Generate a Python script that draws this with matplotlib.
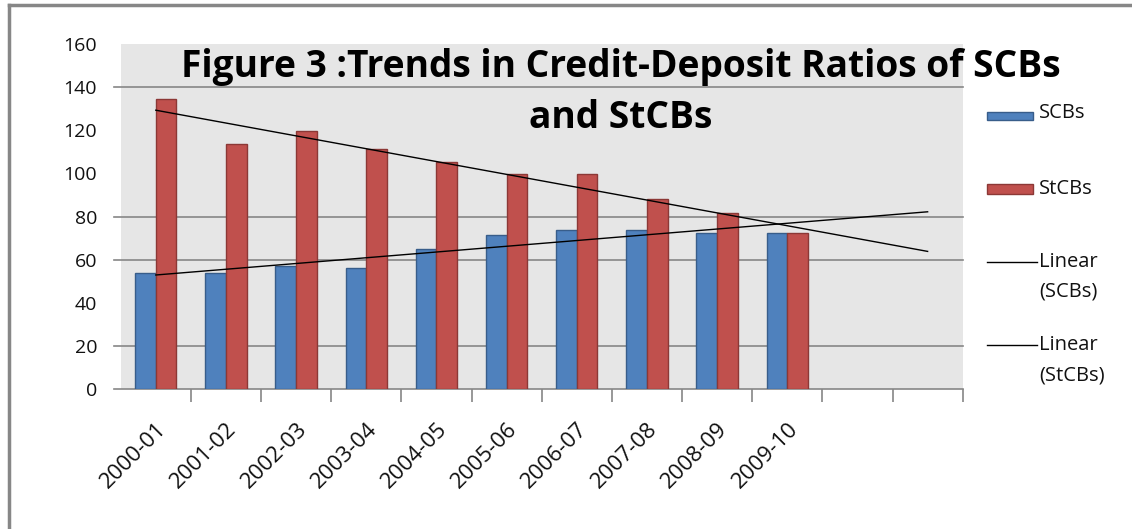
import numpy as np
import matplotlib
matplotlib.use("Agg")
import matplotlib.pyplot as plt
from matplotlib.patches import Rectangle
from matplotlib.lines import Line2D

# ---- data ----
categories = ["2000-01", "2001-02", "2002-03", "2003-04", "2004-05",
              "2005-06", "2006-07", "2007-08", "2008-09", "2009-10", "", ""]
scbs = [53.7, 54.0, 57.1, 56.0, 64.8, 71.3, 73.6, 73.6, 72.4, 72.4]
stcbs = [134.3, 113.6, 119.6, 111.2, 105.1, 99.5, 99.5, 88.0, 81.5, 72.4]
yticks = [0, 20, 40, 60, 80, 100, 120, 140, 160]
visible_grid = [20, 60, 80, 140]
title_lines = ["Figure 3 :Trends in Credit-Deposit Ratios of SCBs", "and StCBs"]

W, H = 1132, 529
plt.rcParams['font.family'] = ['Open Sans', 'DejaVu Sans']
fig = plt.figure(figsize=(W / 100, H / 100), dpi=100)
fig.patch.set_facecolor('white')

def fx(px):
    return px / W

def fy(py):
    return 1 - py / H

left, right, top, bottom = 120.7, 962.7, 43.7, 389.3
ax = fig.add_axes([fx(left), fy(bottom), fx(right) - fx(left), fy(top) - fy(bottom)])
ax.set_facecolor('#e6e6e6')

blue, blue_e = '#4f81bd', '#385d8a'
red, red_e = '#c0504d', '#8c3836'

n = len(categories)
x = np.arange(n)
xd = np.arange(len(scbs))
bw = 0.295
ax.bar(xd - bw / 2, scbs, width=bw, color=blue, edgecolor=blue_e, linewidth=1, zorder=3)
ax.bar(xd + bw / 2, stcbs, width=bw, color=red, edgecolor=red_e, linewidth=1, zorder=3)

# linear trend lines (Excel style, forecast forward 2 periods)
xt = np.arange(n)
for series in (scbs, stcbs):
    k, b = np.polyfit(xd + 1, series, 1)
    ax.plot(xt, k * (xt + 1) + b, color='black', linewidth=1.0, zorder=4)

ax.set_xlim(-0.5, n - 0.5)
ax.set_ylim(0, 160)

for g in visible_grid + [0]:
    ax.axhline(g, xmin=-7 / (right - left), xmax=1, color='#868686',
               linewidth=1.2, zorder=1, clip_on=False)

for s in ax.spines.values():
    s.set_visible(False)

ax.set_yticks(yticks)
ax.set_yticklabels([str(v) for v in yticks], fontsize=14, color='#111111')
ax.tick_params(axis='y', length=0, pad=17)

ax.set_xticks(x)
ax.set_xticklabels(categories, rotation=45, ha='right', rotation_mode='anchor',
                   fontsize=16, color='#111111')
ax.tick_params(axis='x', length=0, pad=21)
ax.set_xticks(np.arange(0.5, n, 1.0), minor=True)
ax.tick_params(axis='x', which='minor', length=9, width=1.2, color='#868686')

# title (two separate lines)
fig.text(fx(621), fy(67), title_lines[0], ha='center', va='center', fontsize=26.7,
         fontweight='bold', color='black')
fig.text(fx(621), fy(118), title_lines[1], ha='center', va='center', fontsize=26.7,
         fontweight='bold', color='black')

# outer frame
fig.add_artist(Line2D([fx(9), fx(9)], [fy(5), 0], transform=fig.transFigure,
                      color='#878787', linewidth=2.5))
fig.add_artist(Line2D([fx(9), 1], [fy(5), fy(5)], transform=fig.transFigure,
                      color='#878787', linewidth=2.5))

# legend (manual, Excel-like right side)
lx0, lx1, tx = 987, 1033, 1039
fs = 14.5
fig.add_artist(Rectangle((fx(lx0), fy(120)), fx(lx1) - fx(lx0), fy(112) - fy(120),
                         transform=fig.transFigure, facecolor=blue, edgecolor=blue_e, lw=1))
fig.text(fx(tx), fy(113), "SCBs", va='center', ha='left', fontsize=fs, color='#111111')
fig.add_artist(Rectangle((fx(lx0), fy(194)), fx(lx1) - fx(lx0), fy(184) - fy(194),
                         transform=fig.transFigure, facecolor=red, edgecolor=red_e, lw=1))
fig.text(fx(tx), fy(189), "StCBs", va='center', ha='left', fontsize=fs, color='#111111')
for ly, l1, l2 in ((262, "Linear", "(SCBs)"), (345, "Linear", "(StCBs)")):
    fig.add_artist(Line2D([fx(lx0), fx(1037)], [fy(ly), fy(ly)], transform=fig.transFigure,
                          color='black', linewidth=1.0))
    fig.text(fx(tx), fy(ly), l1, va='center', ha='left', fontsize=fs, color='#111111')
    fig.text(fx(tx), fy(ly + 30), l2, va='center', ha='left', fontsize=fs, color='#111111')

fig.savefig("out.png", dpi=100)
